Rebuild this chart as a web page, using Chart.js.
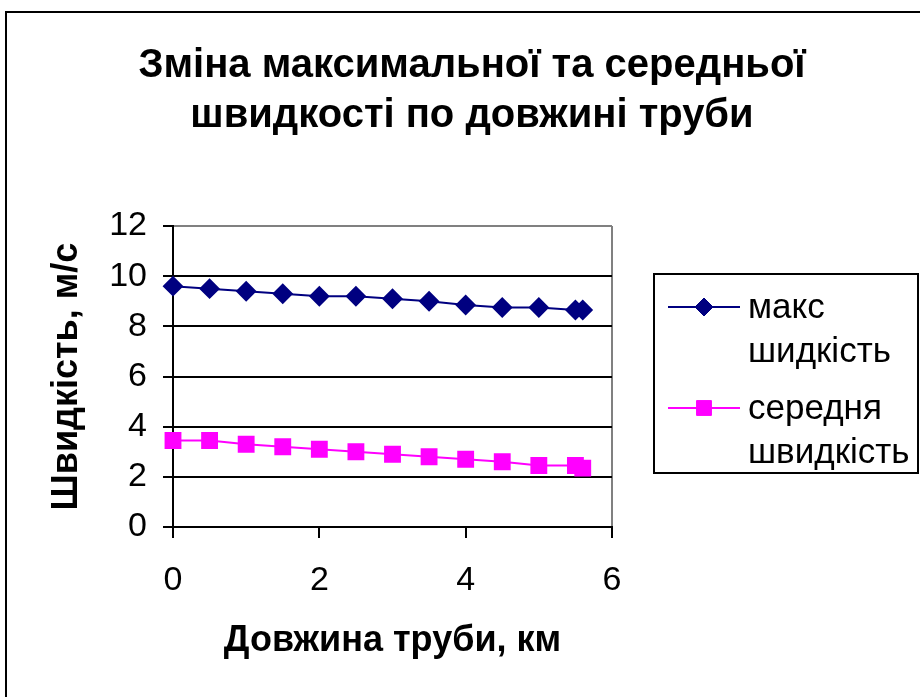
<!DOCTYPE html>
<html>
<head>
<meta charset="utf-8">
<script src="https://cdn.jsdelivr.net/npm/chart.js@4"></script>
<style>
  html, body { margin: 0; padding: 0; background: #fff; }
  #wrap { width: 920px; height: 697px; }
</style>
</head>
<body>
<div id="wrap"><canvas id="chart" width="920" height="697"></canvas></div>
<script>
// дані з графіка
const lengthKm = [0, 0.5, 1, 1.5, 2, 2.5, 3, 3.5, 4, 4.5, 5, 5.5, 5.6];
const maxSpeed = [9.6, 9.5, 9.4, 9.3, 9.2, 9.2, 9.1, 9.0, 8.85, 8.75, 8.75, 8.65, 8.65];
const avgSpeed = [3.45, 3.45, 3.3, 3.2, 3.1, 3.0, 2.9, 2.8, 2.7, 2.6, 2.45, 2.45, 2.35];
const seriesNames = [['макс', 'шидкість'], ['середня', 'швидкість']];
const titleLines = ['Зміна максимальної та середньої', 'швидкості по довжині труби'];
const xTitle = 'Довжина труби, км';
const yTitle = 'Швидкість, м/с';

const FONT = "'Liberation Sans', Arial, sans-serif";

function toPoints(ys) {
  return lengthKm.map((x, i) => ({ x: x, y: ys[i] }));
}

// рамка, заголовок і легенда
const decor = {
  id: 'decor',
  afterDraw(chart) {
    const c = chart.ctx;
    c.save();
    c.strokeStyle = '#000';
    c.lineWidth = 2;
    c.strokeRect(6, 12, 940, 720);

    c.fillStyle = '#000';
    c.font = 'bold 40px ' + FONT;
    c.textAlign = 'center';
    c.textBaseline = 'alphabetic';
    c.fillText(titleLines[0], 472, 77);
    c.fillText(titleLines[1], 472, 127);

    // легенда
    c.lineWidth = 2;
    c.strokeRect(654, 274, 264, 199);
    c.font = '35px ' + FONT;
    c.textAlign = 'left';
    const rows = [307, 408];
    chart.data.datasets.forEach((ds, i) => {
      const y = rows[i];
      c.strokeStyle = ds.borderColor;
      c.lineWidth = 2;
      c.beginPath();
      c.moveTo(668, y);
      c.lineTo(740, y);
      c.stroke();
      c.fillStyle = ds.pointBackgroundColor;
      c.strokeStyle = ds.borderColor;
      c.lineWidth = 1;
      Chart.helpers.drawPoint(c, { pointStyle: ds.pointStyle, radius: ds.pointRadius, borderWidth: 1 }, 704, y);
      c.fillStyle = '#000';
      c.fillText(seriesNames[i][0], 748, y + 11);
      c.fillText(seriesNames[i][1], 748, y + 55);
    });
    c.restore();
  }
};

const ctx = document.getElementById('chart').getContext('2d');
const chart = new Chart(ctx, {
  type: 'scatter',
  data: {
    datasets: [{
      label: 'макс шидкість',
      data: toPoints(maxSpeed),
      showLine: true,
      borderColor: '#000080',
      backgroundColor: '#000080',
      pointBackgroundColor: '#000080',
      pointStyle: 'rectRot',
      pointRadius: 9,
      borderWidth: 2,
      clip: false
    }, {
      label: 'середня швидкість',
      data: toPoints(avgSpeed),
      showLine: true,
      borderColor: '#ff00ff',
      backgroundColor: '#ff00ff',
      pointBackgroundColor: '#ff00ff',
      pointStyle: 'rect',
      pointRadius: 10.5,
      borderWidth: 2,
      clip: false
    }]
  },
  options: {
    responsive: false,
    animation: false,
    layout: { padding: { left: 0, top: 226, right: 308, bottom: 0 } },
    plugins: {
      legend: { display: false },
      title: { display: false },
      tooltip: { enabled: false }
    },
    scales: {
      x: {
        type: 'linear',
        min: 0, max: 6,
        ticks: { stepSize: 2, color: '#000', padding: 22, font: { family: FONT, size: 34 } },
        grid: {
          drawOnChartArea: true,
          color: c => c.tick && c.tick.value === 6 ? '#808080' : 'rgba(0,0,0,0)',
          tickColor: '#000',
          tickLength: 11,
          lineWidth: 2
        },
        border: { color: '#000', width: 2 },
        title: { display: true, text: xTitle, color: '#000', font: { family: FONT, size: 36, weight: 'bold' }, padding: { top: 0, bottom: 34 } },
        afterFit: s => { s.height = 170; }
      },
      y: {
        min: 0, max: 12,
        ticks: { stepSize: 2, color: '#000', padding: 16, font: { family: FONT, size: 34 } },
        grid: {
          color: c => c.tick && c.tick.value === 12 ? '#808080' : '#000',
          tickColor: '#000',
          tickLength: 10,
          lineWidth: 2
        },
        border: { color: '#000', width: 2 },
        title: { display: true, text: yTitle, color: '#000', font: { family: FONT, size: 36, weight: 'bold' }, padding: { top: 45, bottom: 0 } },
        afterFit: s => { s.width = 173; }
      }
    }
  },
  plugins: [decor]
});
</script>
</body>
</html>
